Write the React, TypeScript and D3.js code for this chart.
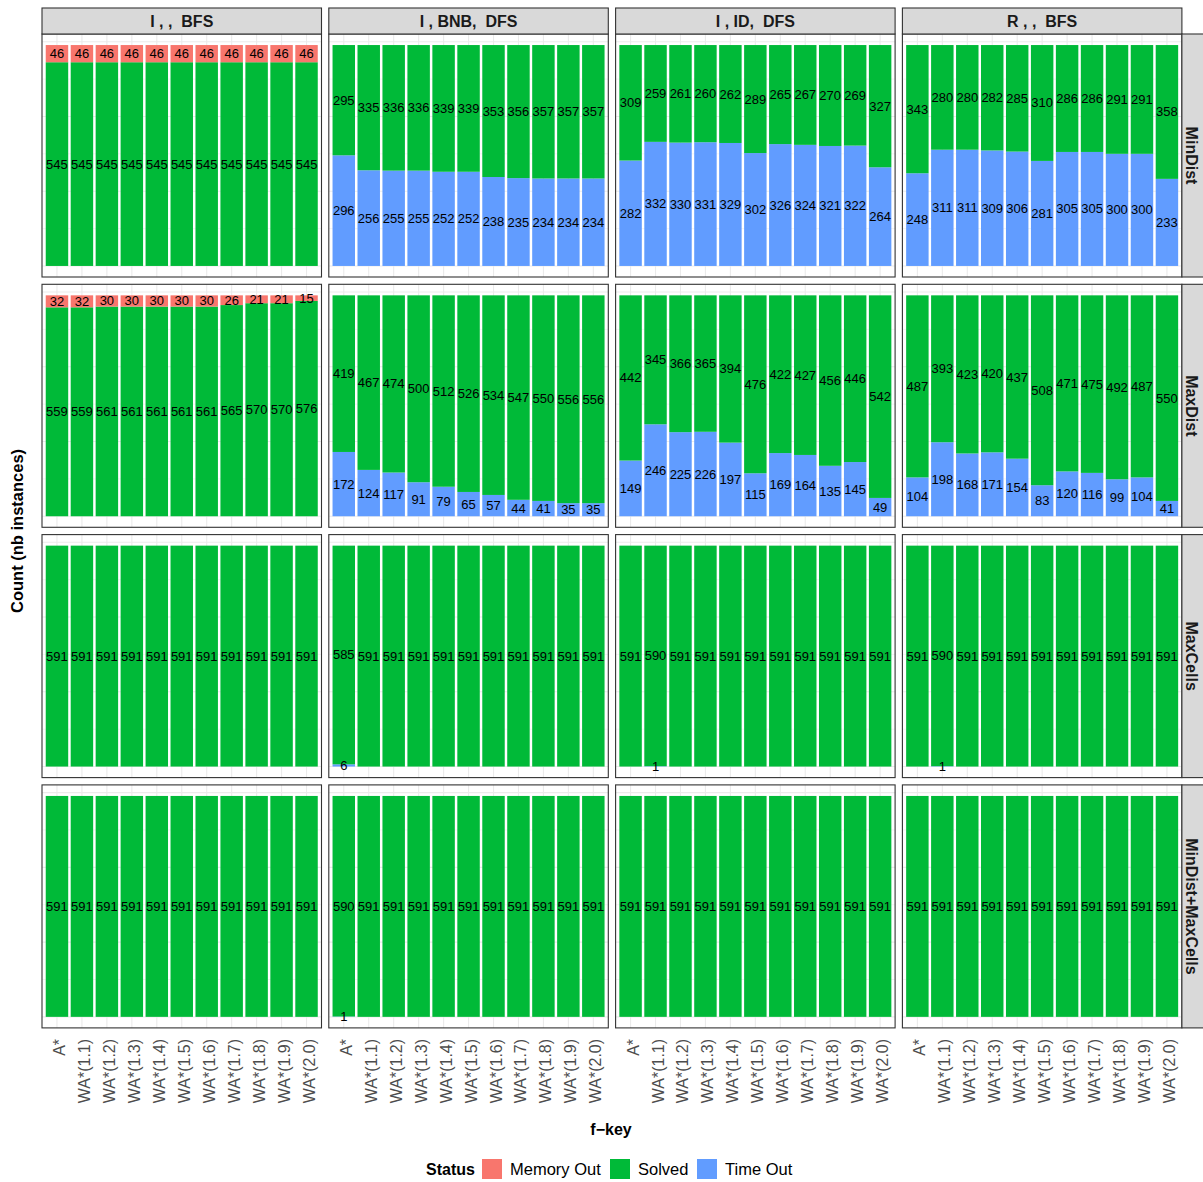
import { scaleLinear, scalePoint, stack } from "d3";

const fKeys = ["A*", "WA*(1.1)", "WA*(1.2)", "WA*(1.3)", "WA*(1.4)", "WA*(1.5)", "WA*(1.6)", "WA*(1.7)", "WA*(1.8)", "WA*(1.9)", "WA*(2.0)"];
const algos = ["I , ,  BFS", "I , BNB,  DFS", "I , ID,  DFS", "R , ,  BFS"];
const heuristics = ["MinDist", "MaxDist", "MaxCells", "MinDist+MaxCells"];
const statuses = ["Memory Out", "Solved", "Time Out"];
const statusColors = ["#F8766D", "#00BA38", "#619CFF"];

// MinDist
const minDistBfsMem = [46, 46, 46, 46, 46, 46, 46, 46, 46, 46, 46];
const minDistBfsSolved = [545, 545, 545, 545, 545, 545, 545, 545, 545, 545, 545];
const minDistBnbSolved = [295, 335, 336, 336, 339, 339, 353, 356, 357, 357, 357];
const minDistBnbTimeout = [296, 256, 255, 255, 252, 252, 238, 235, 234, 234, 234];
const minDistIdSolved = [309, 259, 261, 260, 262, 289, 265, 267, 270, 269, 327];
const minDistIdTimeout = [282, 332, 330, 331, 329, 302, 326, 324, 321, 322, 264];
const minDistRSolved = [343, 280, 280, 282, 285, 310, 286, 286, 291, 291, 358];
const minDistRTimeout = [248, 311, 311, 309, 306, 281, 305, 305, 300, 300, 233];
// MaxDist
const maxDistBfsMem = [32, 32, 30, 30, 30, 30, 30, 26, 21, 21, 15];
const maxDistBfsSolved = [559, 559, 561, 561, 561, 561, 561, 565, 570, 570, 576];
const maxDistBnbSolved = [419, 467, 474, 500, 512, 526, 534, 547, 550, 556, 556];
const maxDistBnbTimeout = [172, 124, 117, 91, 79, 65, 57, 44, 41, 35, 35];
const maxDistIdSolved = [442, 345, 366, 365, 394, 476, 422, 427, 456, 446, 542];
const maxDistIdTimeout = [149, 246, 225, 226, 197, 115, 169, 164, 135, 145, 49];
const maxDistRSolved = [487, 393, 423, 420, 437, 508, 471, 475, 492, 487, 550];
const maxDistRTimeout = [104, 198, 168, 171, 154, 83, 120, 116, 99, 104, 41];
// MaxCells
const maxCellsBfsSolved = [591, 591, 591, 591, 591, 591, 591, 591, 591, 591, 591];
const maxCellsBnbSolved = [585, 591, 591, 591, 591, 591, 591, 591, 591, 591, 591];
const maxCellsBnbTimeout = [6, 0, 0, 0, 0, 0, 0, 0, 0, 0, 0];
const maxCellsIdSolved = [591, 590, 591, 591, 591, 591, 591, 591, 591, 591, 591];
const maxCellsIdTimeout = [0, 1, 0, 0, 0, 0, 0, 0, 0, 0, 0];
const maxCellsRSolved = [591, 590, 591, 591, 591, 591, 591, 591, 591, 591, 591];
const maxCellsRTimeout = [0, 1, 0, 0, 0, 0, 0, 0, 0, 0, 0];
// MinDist+MaxCells
const bothBfsSolved = [591, 591, 591, 591, 591, 591, 591, 591, 591, 591, 591];
const bothBnbSolved = [590, 591, 591, 591, 591, 591, 591, 591, 591, 591, 591];
const bothBnbTimeout = [1, 0, 0, 0, 0, 0, 0, 0, 0, 0, 0];
const bothIdSolved = [591, 591, 591, 591, 591, 591, 591, 591, 591, 591, 591];
const bothRSolved = [591, 591, 591, 591, 591, 591, 591, 591, 591, 591, 591];

const zeros = fKeys.map(() => 0);

// [row][col] -> [memOut, solved, timeOut]
const grid: number[][][][] = [
    [
        [minDistBfsMem, minDistBfsSolved, zeros],
        [zeros, minDistBnbSolved, minDistBnbTimeout],
        [zeros, minDistIdSolved, minDistIdTimeout],
        [zeros, minDistRSolved, minDistRTimeout],
    ],
    [
        [maxDistBfsMem, maxDistBfsSolved, zeros],
        [zeros, maxDistBnbSolved, maxDistBnbTimeout],
        [zeros, maxDistIdSolved, maxDistIdTimeout],
        [zeros, maxDistRSolved, maxDistRTimeout],
    ],
    [
        [zeros, maxCellsBfsSolved, zeros],
        [zeros, maxCellsBnbSolved, maxCellsBnbTimeout],
        [zeros, maxCellsIdSolved, maxCellsIdTimeout],
        [zeros, maxCellsRSolved, maxCellsRTimeout],
    ],
    [
        [zeros, bothBfsSolved, zeros],
        [zeros, bothBnbSolved, bothBnbTimeout],
        [zeros, bothIdSolved, zeros],
        [zeros, bothRSolved, zeros],
    ],
];

const font = "'Liberation Sans', Arial, Helvetica, sans-serif";
const W = 1203;
const H = 1182;
const left0 = 42;
const top0 = 34;
const panelW = 279.5;
const panelH = 243;
const gap = 7.3;
const stripH = 26;

const scaleX = scalePoint<string>().domain(fKeys).range([0, panelW]).padding(0.6);
const step = scaleX.step();
const barW = step * 0.9;
const scaleY = scaleLinear().domain([-29.55, 620.55]).range([panelH, 0]);

const stackKeys = ["Time Out", "Solved", "Memory Out"];

const Panel = ({ data, x, y }: { data: number[][]; x: number; y: number }) => {
    const rows = fKeys.map((k, i) => ({
        key: k,
        "Memory Out": data[0][i],
        Solved: data[1][i],
        "Time Out": data[2][i],
    }));
    const series = stack<any>().keys(stackKeys)(rows);
    return (
        <g transform={`translate(${x},${y})`}>
            <rect width={panelW} height={panelH} fill="white" />
            {[100, 300, 500].map((v) => (
                <line key={`mn${v}`} x1={0} x2={panelW} y1={scaleY(v)} y2={scaleY(v)} stroke="#EBEBEB" strokeWidth={0.55} />
            ))}
            {[0, 200, 400, 600].map((v) => (
                <line key={`mj${v}`} x1={0} x2={panelW} y1={scaleY(v)} y2={scaleY(v)} stroke="#EBEBEB" strokeWidth={1.1} />
            ))}
            {fKeys.map((k) => (
                <line key={`vx${k}`} x1={scaleX(k)} x2={scaleX(k)} y1={0} y2={panelH} stroke="#EBEBEB" strokeWidth={1.1} />
            ))}
            {series.map((s) => {
                const color = statusColors[statuses.indexOf(s.key)];
                return s.map((d, i) =>
                    d[1] - d[0] > 0 ? (
                        <rect
                            key={`${s.key}-${i}`}
                            x={(scaleX(fKeys[i]) as number) - barW / 2}
                            y={scaleY(d[1])}
                            width={barW}
                            height={scaleY(d[0]) - scaleY(d[1])}
                            fill={color}
                        />
                    ) : null
                );
            })}
            {series.map((s) =>
                s.map((d, i) =>
                    d[1] - d[0] > 0 ? (
                        <text
                            key={`t-${s.key}-${i}`}
                            x={scaleX(fKeys[i])}
                            y={scaleY((d[0] + d[1]) / 2)}
                            textAnchor="middle"
                            dominantBaseline="central"
                            fontSize={13}
                            fill="black"
                        >
                            {d[1] - d[0]}
                        </text>
                    ) : null
                )
            )}
            <rect width={panelW} height={panelH} fill="none" stroke="#333333" strokeWidth={1.1} />
        </g>
    );
};

export default function App() {
    const colX = algos.map((_, c) => left0 + c * (panelW + gap));
    const rowY = heuristics.map((_, r) => top0 + r * (panelH + gap));
    const rightX = colX[3] + panelW;
    const bottomY = rowY[3] + panelH;

    const legendItems = [
        { x: 482, label: "Memory Out" },
        { x: 610, label: "Solved" },
        { x: 697, label: "Time Out" },
    ];

    return (
        <svg
            width={W}
            height={H}
            style={{ position: "absolute", left: 0, top: 0, fontFamily: font }}
        >
            <rect width={W} height={H} fill="white" />
            {grid.map((row, r) =>
                row.map((cell, c) => <Panel key={`p${r}-${c}`} data={cell} x={colX[c]} y={rowY[r]} />)
            )}
            {/* top strips */}
            {algos.map((a, c) => (
                <g key={`st${c}`} transform={`translate(${colX[c]},${top0 - stripH})`}>
                    <rect width={panelW} height={stripH} fill="#D9D9D9" stroke="#333333" strokeWidth={1.1} />
                    <text
                        x={panelW / 2}
                        y={stripH / 2}
                        textAnchor="middle"
                        dominantBaseline="central"
                        fontSize={16}
                        fontWeight="bold"
                        fill="#1A1A1A"
                        style={{ whiteSpace: "pre" }}
                    >
                        {a}
                    </text>
                </g>
            ))}
            {/* right strips */}
            {heuristics.map((h, r) => (
                <g key={`sr${r}`} transform={`translate(${rightX},${rowY[r]})`}>
                    <rect width={stripH} height={panelH} fill="#D9D9D9" stroke="#333333" strokeWidth={1.1} />
                    <text
                        transform={`translate(${stripH / 2 - 3},${panelH / 2}) rotate(90)`}
                        textAnchor="middle"
                        dominantBaseline="central"
                        fontSize={16}
                        fontWeight="bold"
                        fill="#1A1A1A"
                    >
                        {h}
                    </text>
                </g>
            ))}
            {/* x tick labels */}
            {colX.map((cx, c) =>
                fKeys.map((k) => (
                    <text
                        key={`xl${c}-${k}`}
                        transform={`translate(${cx + (scaleX(k) as number) + 2.5},${bottomY + 11}) rotate(-90)`}
                        textAnchor="end"
                        dominantBaseline="central"
                        fontSize={16}
                        fill="#4D4D4D"
                    >
                        {k}
                    </text>
                ))
            )}
            <text x={611} y={1135} textAnchor="middle" fontSize={16} fontWeight="bold" fill="black">
                f−key
            </text>
            <text
                transform={`translate(23,${(top0 + bottomY) / 2}) rotate(-90)`}
                textAnchor="middle"
                fontSize={16.5}
                fontWeight="bold"
                fill="black"
            >
                Count (nb instances)
            </text>
            {/* legend */}
            <text x={426} y={1175} fontSize={16} fontWeight="bold" fill="black">
                Status
            </text>
            {legendItems.map((it, i) => (
                <g key={`lg${i}`}>
                    <rect x={it.x} y={1159} width={20} height={20} fill={statusColors[i]} />
                    <text x={it.x + 28} y={1175} fontSize={16.5} fill="black">
                        {it.label}
                    </text>
                </g>
            ))}
        </svg>
    );
}
